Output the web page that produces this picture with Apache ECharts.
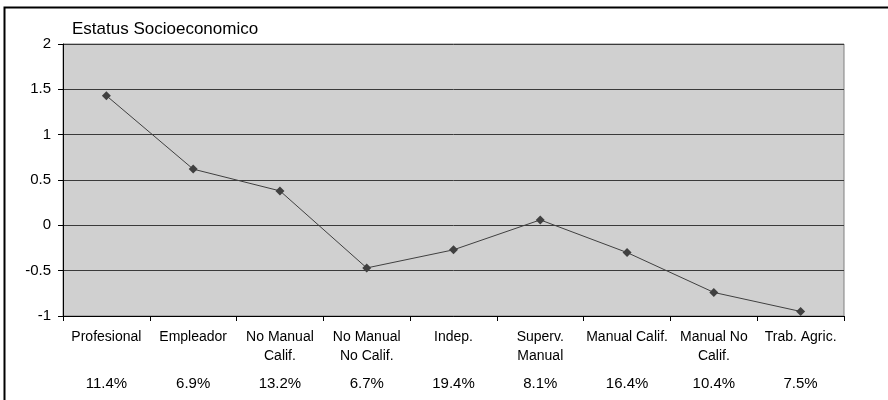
<!DOCTYPE html>
<html>
<head>
<meta charset="utf-8">
<script src="https://cdn.jsdelivr.net/npm/echarts@6/dist/echarts.min.js"></script>
<style>
  html, body { margin: 0; padding: 0; background: #fff; }
  #chart { width: 888px; height: 400px; }
</style>
</head>
<body>
<div id="chart"></div>
<script>
// Socioeconomic status index by occupational group
const titleText = 'Estatus Socioeconomico';
const categories = [
  'Profesional', 'Empleador', 'No Manual\nCalif.', 'No Manual\nNo Calif.', 'Indep.',
  'Superv.\nManual', 'Manual Calif.', 'Manual No\nCalif.', 'Trab. Agric.'
];
const statusValues = [1.43, 0.62, 0.38, -0.47, -0.27, 0.06, -0.30, -0.74, -0.95];
const shares = ['11.4%', '6.9%', '13.2%', '6.7%', '19.4%', '8.1%', '16.4%', '10.4%', '7.5%'];

const font = 'Arial, "Liberation Sans", sans-serif';
const chart = echarts.init(document.getElementById('chart'), null, { renderer: 'canvas' });

chart.setOption({
  animation: false,
  backgroundColor: '#ffffff',
  graphic: [{
    type: 'rect',
    shape: { x: 4.5, y: 7.5, width: 1000, height: 1000 },
    style: { fill: 'none', stroke: '#000', lineWidth: 2 },
    silent: true,
    z: -1
  }],
  title: {
    text: titleText,
    left: 67,
    top: 16,
    textStyle: { fontFamily: font, fontSize: 17, fontWeight: 'normal', color: '#000' }
  },
  grid: {
    left: 63, right: 44, top: 44, bottom: 84,
    show: true,
    backgroundColor: '#d0d0d0',
    borderColor: '#808080',
    borderWidth: 1
  },
  xAxis: [{
    type: 'category',
    data: categories,
    boundaryGap: true,
    axisLine: { onZero: false, lineStyle: { color: '#000', width: 1 } },
    axisTick: { show: true, length: 5, lineStyle: { color: '#000' } },
    axisLabel: {
      interval: 0, margin: 12, color: '#000',
      fontFamily: font, fontSize: 14, lineHeight: 19
    },
    splitLine: { show: false }
  }, {
    type: 'category',
    data: shares,
    position: 'bottom',
    boundaryGap: true,
    axisLine: { show: false, onZero: false },
    axisTick: { show: false },
    axisLabel: {
      interval: 0, margin: 59, color: '#000',
      fontFamily: font, fontSize: 15, lineHeight: 18
    }
  }],
  yAxis: {
    type: 'value',
    min: -1, max: 2, interval: 0.5,
    axisLine: { show: true, lineStyle: { color: '#000', width: 1 } },
    axisTick: { show: true, length: 5, lineStyle: { color: '#000' } },
    axisLabel: { margin: 12, color: '#000', fontFamily: font, fontSize: 15 },
    splitLine: { show: true, lineStyle: { color: '#3a3a3a', width: 1 } }
  },
  series: [{
    type: 'line',
    data: statusValues,
    xAxisIndex: 0,
    symbol: 'diamond',
    symbolSize: 9,
    lineStyle: { color: '#404040', width: 1 },
    itemStyle: { color: '#404040' },
    z: 5
  }]
});
</script>
</body>
</html>
